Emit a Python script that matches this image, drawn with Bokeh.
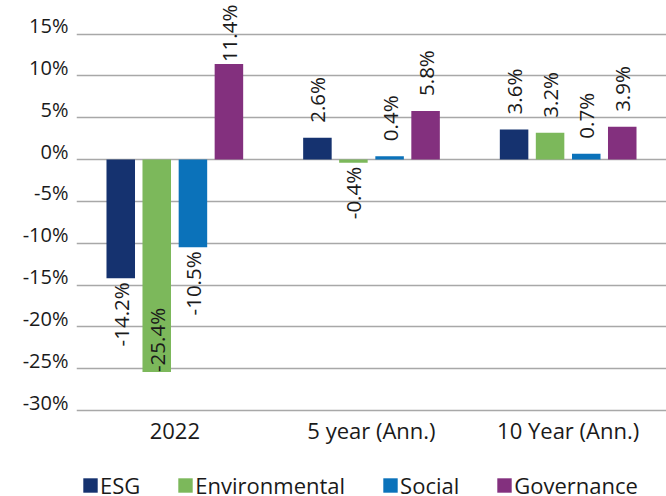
import math
from bokeh.plotting import figure
from bokeh.models import (ColumnDataSource, FactorRange, Range1d, FixedTicker,
                          CustomJSTickFormatter, Legend, LegendItem)
from bokeh.transform import dodge
from bokeh.core.properties import value
from bokeh.embed import file_html
from bokeh.resources import INLINE

# ---- data ----
categories = ["2022", "5 year (Ann.)", "10 Year (Ann.)"]
series_names = ["ESG", "Environmental", "Social", "Governance"]
esg = [-14.2, 2.6, 3.6]
environmental = [-25.4, -0.4, 3.2]
social = [-10.5, 0.4, 0.7]
governance = [11.4, 5.8, 3.9]
y_ticks = [-30, -25, -20, -15, -10, -5, 0, 5, 10, 15]

# ---- style ----
colors = ["#15326f", "#7cb85b", "#0b72ba", "#83307e"]
offsets = [-0.275, -0.092, 0.092, 0.275]
BAR_W = 0.145
FONT = "Open Sans"
TXT = "#1a1a1a"
LABEL_LIFT = 1.0   # tick labels sit slightly above their gridlines, as in the source

# frame fills the whole canvas; -30 sits at y=410, 15 at y=33.5
px_per_unit = (410 - 33.5) / 45.0
y_top = 15 + 33.5 / px_per_unit
y_bottom = -30 - (496 - 410) / px_per_unit

p = figure(width=666, height=496,
           x_range=FactorRange(*categories), y_range=Range1d(y_bottom, y_top),
           output_backend="svg", toolbar_location=None,
           min_border_left=76, min_border_right=0, min_border_top=0,
           min_border_bottom=0)
p.outline_line_color = None
p.background_fill_color = "white"
p.border_fill_color = "white"

src = ColumnDataSource(dict(cat=categories, ESG=esg, Environmental=environmental,
                            Social=social, Governance=governance))

all_series = [esg, environmental, social, governance]
renderers = []
for name, vals, col, off in zip(series_names, all_series, colors, offsets):
    r = p.vbar(x=dodge("cat", off, range=p.x_range), top=name, bottom=0,
               width=BAR_W, source=src, fill_color=col, line_color=None)
    renderers.append(r)
    groups = {}
    for cat, v in zip(categories, vals):
        txt = f"{v:.1f}%"
        if v >= 0:
            key = ("left", -2) if v > 10 else ("left", -15)
        else:
            key = ("left", 0) if v < -20 else ("right", 4)
        g = groups.setdefault(key, {"cat": [], "val": [], "txt": []})
        g["cat"].append(cat)
        g["val"].append(v)
        g["txt"].append(txt)
    for (align, yoff), d in groups.items():
        p.text(x=dodge("cat", off, range=p.x_range), y="val", text="txt",
               source=ColumnDataSource(d), angle=math.pi / 2,
               text_align=align, text_baseline="middle", y_offset=yoff,
               text_font=value(FONT), text_font_size="20.5px", text_color=TXT)

# grid
p.xgrid.visible = False
p.ygrid.ticker = FixedTicker(ticks=y_ticks)
p.ygrid.grid_line_color = "#a8a8a8"
p.ygrid.grid_line_width = 1.3

# axes
p.yaxis.ticker = FixedTicker(ticks=[t + LABEL_LIFT for t in y_ticks])
p.yaxis.formatter = CustomJSTickFormatter(
    args=dict(lift=LABEL_LIFT),
    code="return Math.round(tick - lift) + '%';")
for ax in (p.xaxis, p.yaxis):
    ax.axis_line_color = None
    ax.major_tick_line_color = None
    ax.minor_tick_line_color = None
    ax.major_tick_out = 0
    ax.major_tick_in = 0
    ax.major_label_text_font = FONT
    ax.major_label_text_color = TXT
p.yaxis.major_label_text_font_size = "20px"
p.yaxis.major_label_standoff = 8
p.xaxis.major_label_text_font_size = "22px"
p.xaxis.major_label_standoff = 4
p.xaxis.fixed_location = y_ticks[0]

legend = Legend(items=[LegendItem(label=n, renderers=[r]) for n, r in zip(series_names, renderers)],
                orientation="horizontal", location=(5, -4),
                glyph_width=18, glyph_height=18, label_standoff=1, spacing=36,
                padding=0, margin=0, border_line_color=None,
                background_fill_alpha=0,
                label_text_font=FONT, label_text_font_size="22px", label_text_color=TXT)
p.add_layout(legend)

open("out.html", "w").write(file_html(p, INLINE))
